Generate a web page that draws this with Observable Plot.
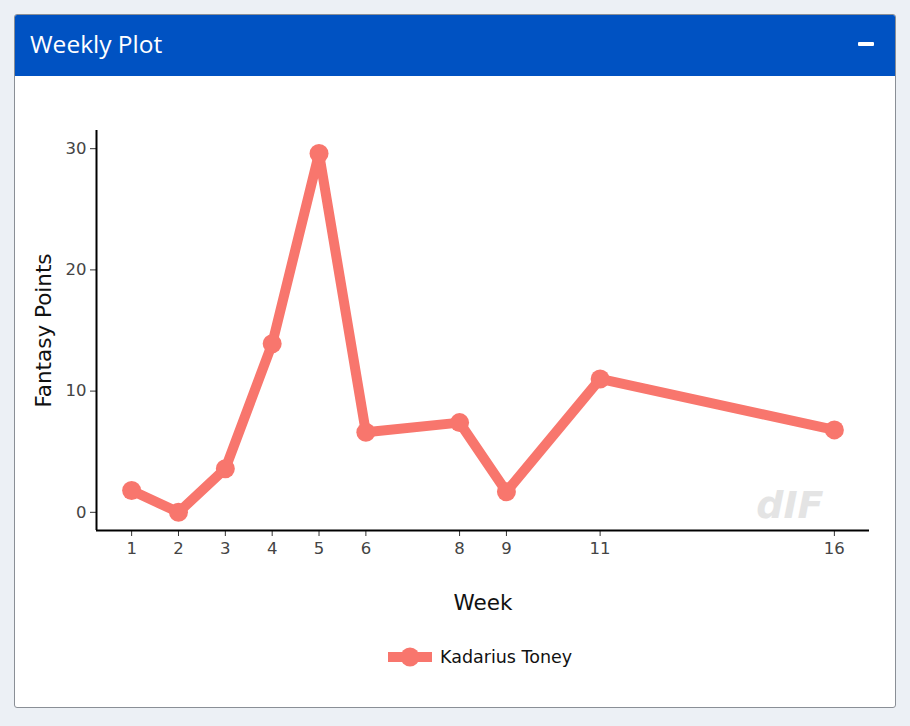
<!DOCTYPE html>
<html>
<head>
<meta charset="utf-8">
<script src="https://cdn.jsdelivr.net/npm/d3@7"></script>
<script src="https://cdn.jsdelivr.net/npm/@observablehq/plot@0.6"></script>
<style>
  html, body { margin: 0; padding: 0; background: #ecf0f5; width: 910px; height: 726px; overflow: hidden; }
  .card { position: absolute; left: 14px; top: 14px; width: 880px; height: 692px; background: #fff;
          border: 1px solid #8a8f96; border-radius: 3px; overflow: hidden; }
  .header { position: absolute; left: 0; top: 0; width: 880px; height: 61px; background: #0052c2; }
  .title { position: absolute; left: 15px; top: 13px; color: #fff; font-family: "Open Sans", "Roboto", sans-serif;
           font-size: 24.5px; line-height: 32px; }
  .minus { position: absolute; left: 843px; top: 27px; width: 16px; height: 4px; background: #fff; border-radius: 1px; }
  #chart { position: absolute; left: 0; top: 61px; }
  .legend { position: absolute; top: 631px; left: 372px; display: flex; align-items: center;
            font-family: "DejaVu Sans", sans-serif; font-size: 17.5px; color: #111; }
  .legend svg { margin-right: 7px; }
</style>
</head>
<body>
<div class="card">
  <div class="header"><div class="title">Weekly Plot</div><div class="minus"></div></div>
  <div id="chart"></div>
  <div class="legend" id="legend"></div>
</div>
<script>
const weeks = [1, 2, 3, 4, 5, 6, 8, 9, 11, 16];
const points = [1.8, 0.0, 3.6, 13.9, 29.6, 6.6, 7.4, 1.7, 11.0, 6.8];
const player = "Kadarius Toney";
const yTicks = [0, 10, 20, 30];
const xDomain = [0.25, 16.75];
const yDomain = [-1.5, 31.5];
const lineColor = "#F8766D";

const data = weeks.map((w, i) => ({ week: w, pts: points[i], player }));

const chart = Plot.plot({
  width: 880,
  height: 560,
  marginLeft: 81,
  marginRight: 26,
  marginTop: 54,
  marginBottom: 106,
  style: { fontFamily: "DejaVu Sans, sans-serif", fontSize: "16.5px", background: "transparent", overflow: "visible" },
  x: { domain: xDomain, ticks: weeks, tickFormat: d3.format("d") },
  y: { domain: yDomain, ticks: yTicks },
  marks: [
    Plot.text(["dIF"], { frameAnchor: "bottom-right", dx: -46, dy: -13, textAnchor: "end", lineAnchor: "bottom",
      fontSize: 38, fontWeight: 900, fontStyle: "italic", fill: "#e4e4e4" }),
    Plot.axisX({ ticks: weeks, tickSize: 6, tickPadding: 6, stroke: "#333", fill: "#444", label: null, tickFormat: d3.format("d") }),
    Plot.axisY({ ticks: yTicks, tickSize: 6, tickPadding: 4, stroke: "#333", fill: "#444", label: null }),
    Plot.ruleX([xDomain[0]], { stroke: "#000", strokeWidth: 2 }),
    Plot.ruleY([yDomain[0]], { stroke: "#000", strokeWidth: 2 }),
    Plot.line(data, { x: "week", y: "pts", stroke: lineColor, strokeWidth: 10, strokeLinejoin: "round" }),
    Plot.dot(data, { x: "week", y: "pts", r: 9.5, fill: lineColor, stroke: "none" }),
    Plot.text(["Week"], { frameAnchor: "bottom", dy: 73, lineAnchor: "middle", textAnchor: "middle", fontSize: 21.5, fill: "#111" }),
    Plot.text(["Fantasy Points"], { frameAnchor: "left", dx: -52, rotate: -90, lineAnchor: "middle", textAnchor: "middle", fontSize: 21.5, fill: "#111" })
  ]
});
document.getElementById("chart").appendChild(chart);

document.getElementById("legend").innerHTML =
  `<svg width="46" height="22"><line x1="1" y1="11" x2="45" y2="11" stroke="${lineColor}" stroke-width="10"/>` +
  `<circle cx="23" cy="11" r="9.5" fill="${lineColor}"/></svg><span>${player}</span>`;
</script>
</body>
</html>
